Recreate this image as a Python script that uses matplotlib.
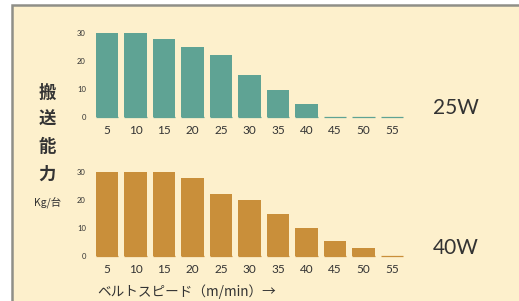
import matplotlib.pyplot as plt
from matplotlib.patches import Rectangle
from matplotlib.transforms import ScaledTranslation

speeds = ["5", "10", "15", "20", "25", "30", "35", "40", "45", "50", "55"]
load_25w = [30, 30, 28, 25, 22, 15, 9.5, 4.5, 0, 0, 0]
load_40w = [30, 30, 30, 28, 22, 20, 15, 10, 5.5, 3, 0]
yticks = [0, 10, 20, 30]

W, H = 519, 301
bg = "#fdf0cc"
teal = "#5fa394"
gold = "#c98f3a"
txt = "#333333"

jp = ["Noto Sans CJK JP", "DejaVu Sans"]

fig = plt.figure(figsize=(W / 100, H / 100), dpi=100)
fig.patch.set_facecolor("white")

# cream panel with grey frame (left/top only visible)
fig.patches.append(Rectangle((12 / W, -0.1), 1.2, (H - 5) / H + 0.1,
                             transform=fig.transFigure, facecolor=bg,
                             edgecolor="#8f8f88", linewidth=1.8, zorder=-5))


def px_axes(left, right, y0, y30):
    # pixel coords (image, y down) -> figure fractions
    return fig.add_axes([left / W, (H - y0) / H, (right - left) / W, (y0 - y30) / H])


def draw(ax, values, color):
    x = range(len(speeds))
    ax.bar(x, values, width=0.8, color=color)
    ax.hlines([0] * len(speeds), [i - 0.4 for i in x], [i + 0.4 for i in x],
              color=color, linewidth=0.9, clip_on=False)
    ax.set_xlim(-0.5, len(speeds) - 0.5)
    ax.set_ylim(0, 30)
    ax.set_xticks(list(x))
    ax.set_xticklabels(speeds, fontsize=8.5, color=txt, family="Lato")
    ax.set_yticks(yticks)
    ax.set_yticklabels([str(v) for v in yticks], fontsize=5.5, color=txt, family="Lato")
    # y labels sit a little above their value in the original
    for lab in ax.get_yticklabels():
        lab.set_transform(lab.get_transform() + ScaledTranslation(0, 3 / 100, fig.dpi_scale_trans))
    ax.tick_params(length=0)
    ax.tick_params(axis="x", pad=6)
    ax.tick_params(axis="y", pad=5)
    for s in ax.spines.values():
        s.set_visible(False)
    ax.patch.set_visible(False)


ax1 = px_axes(92.75, 406.25, 117, 33)
draw(ax1, load_25w, teal)
ax2 = px_axes(92.75, 406.25, 256, 172)
draw(ax2, load_40w, gold)

fig.text(456 / W, 1 - 108 / H, "25W", fontsize=15, color=txt, family="Lato",
         ha="center", va="center")
fig.text(456 / W, 1 - 248 / H, "40W", fontsize=15, color=txt, family="Lato",
         ha="center", va="center")

for ch, yy in zip("搬送能力", [93, 120, 147, 175]):
    fig.text(47 / W, 1 - yy / H, ch, fontsize=12.5, fontweight="bold", color=txt,
             family=jp, ha="center", va="center")
fig.text(48 / W, 1 - 203 / H, "Kg/台", fontsize=7.5, color=txt, family=jp,
         ha="center", va="center")

fig.text(97 / W, 1 - 292 / H, "ベルトスピード（m/min）→", fontsize=9.8, color=txt,
         family=jp, ha="left", va="center")

fig.savefig("out.png", dpi=100)
